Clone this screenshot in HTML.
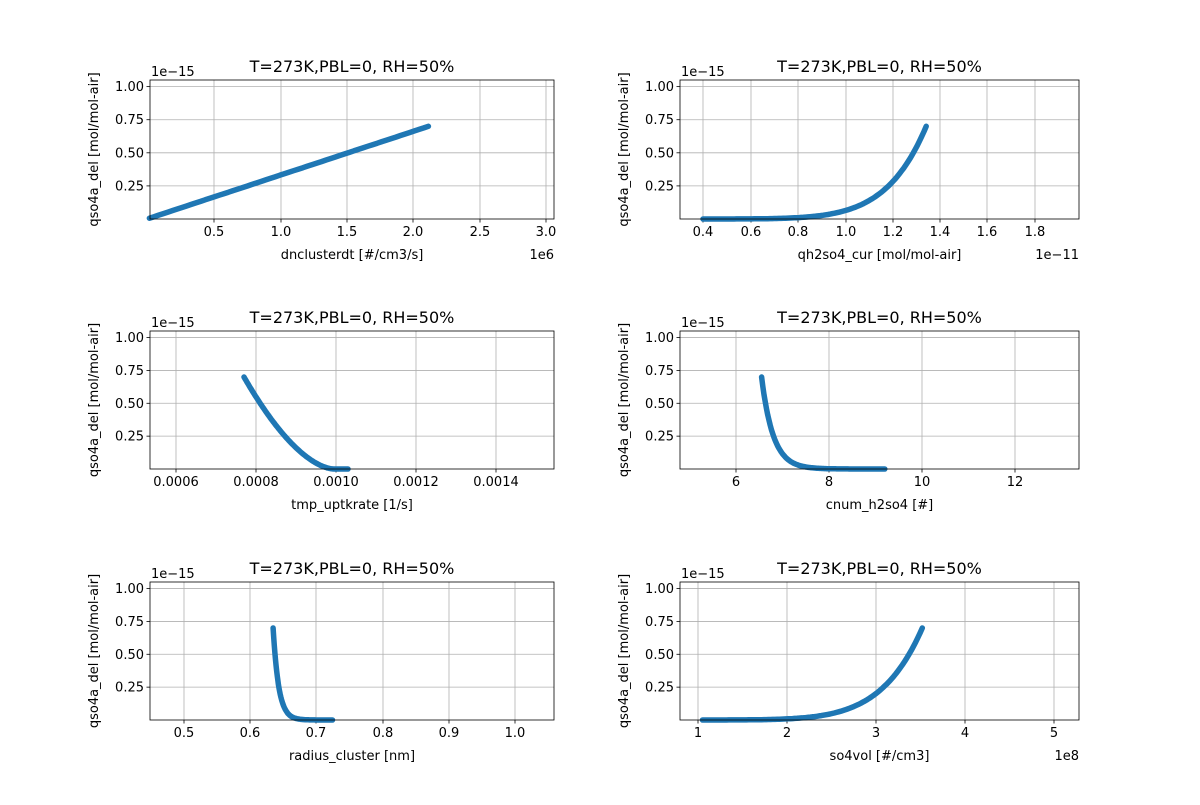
<!DOCTYPE html>
<html><head><meta charset="utf-8"><style>
body{margin:0;background:#fff}
svg text{font-family:"DejaVu Sans","Liberation Sans",sans-serif;fill:#000}
</style></head><body>
<svg id="s" width="1200" height="800" xmlns="http://www.w3.org/2000/svg"></svg>
<script>
const S=document.getElementById('s');const NS='http://www.w3.org/2000/svg';
function el(t,a,txt){const e=document.createElementNS(NS,t);for(const k in a)e.setAttribute(k,a[k]);if(txt!==undefined)e.textContent=txt;S.appendChild(e);return e;}
const axes=[
 {x0:150,x1:554,y0:80,y1:219,xt:[[0.5,214,'0.5'],[1.0,281,'1.0'],[1.5,347,'1.5'],[2.0,413,'2.0'],[2.5,480,'2.5'],[3.0,546,'3.0']],xl:'dnclusterdt [#/cm3/s]',off:'1e6',
  f:()=>{let p=[];for(let i=0;i<=60;i++){let x=0.018+i*(2.1-0.018)/60;p.push([x,x/3.0]);}return p;}},
 {x0:680,x1:1079,y0:80,y1:219,xt:[[0.4,703,'0.4'],[0.6,751,'0.6'],[0.8,798,'0.8'],[1.0,846,'1.0'],[1.2,893,'1.2'],[1.4,940,'1.4'],[1.6,987,'1.6'],[1.8,1035,'1.8']],xl:'qh2so4_cur [mol/mol-air]',off:'1e\u221211',
  f:()=>{let p=[];for(let i=0;i<=100;i++){let x=0.4+i*(1.33-0.4)/100;p.push([x,0.7*Math.pow(x/1.33,8.2)]);}return p;}},
 {x0:150,x1:554,y0:331,y1:469,xt:[[0.0006,176,'0.0006'],[0.0008,256,'0.0008'],[0.0010,336,'0.0010'],[0.0012,416,'0.0012'],[0.0014,496,'0.0014']],xl:'tmp_uptkrate [1/s]',
  f:()=>{let p=[];for(let i=0;i<=100;i++){let x=0.00077+i*(0.00103-0.00077)/100;let s=Math.max(0,(0.000995-x)/(0.000995-0.00077));p.push([x,0.7*Math.pow(s,1.7)]);}return p;}},
 {x0:680,x1:1079,y0:331,y1:469,xt:[[6,736,'6'],[8,829,'8'],[10,922,'10'],[12,1015,'12']],xl:'cnum_h2so4 [#]',
  f:()=>{let p=[];for(let i=0;i<=100;i++){let x=6.55+i*(9.2-6.55)/100;p.push([x,0.7*Math.exp(-(x-6.55)/0.25)]);}return p;}},
 {x0:150,x1:554,y0:582,y1:720,xt:[[0.5,184,'0.5'],[0.6,250,'0.6'],[0.7,316,'0.7'],[0.8,383,'0.8'],[0.9,449,'0.9'],[1.0,515,'1.0']],xl:'radius_cluster [nm]',
  f:()=>{let p=[];for(let i=0;i<=100;i++){let x=0.635+i*(0.725-0.635)/100;p.push([x,0.7*Math.exp(-(x-0.635)/0.0085)]);}return p;}},
 {x0:680,x1:1079,y0:582,y1:720,xt:[[1,698,'1'],[2,787,'2'],[3,876,'3'],[4,965,'4'],[5,1054,'5']],xl:'so4vol [#/cm3]',off:'1e8',
  f:()=>{let p=[];for(let i=0;i<=100;i++){let x=1.05+i*(3.52-1.05)/100;p.push([x,0.7*Math.pow(x/3.52,7.8)]);}return p;}}
];
axes.forEach(a=>{
 const h=a.y1-a.y0,sy=h/1.05;
 const [d0,p0]=[a.xt[0][0],a.xt[0][1]],[d1,p1]=[a.xt[1][0],a.xt[1][1]];
 const X=v=>p0+(v-d0)*(p1-p0)/(d1-d0),Y=v=>a.y1-v*sy;
 a.xt.forEach(t=>{el('line',{x1:t[1],x2:t[1],y1:a.y0,y2:a.y1,stroke:'#b0b0b0','stroke-width':0.8});
  el('line',{x1:t[1],x2:t[1],y1:a.y1,y2:a.y1+3.5,stroke:'#000','stroke-width':0.8});
  el('text',{x:t[1],y:a.y1+17,'font-size':13,'text-anchor':'middle'},t[2]);});
 [[0.25,'0.25'],[0.5,'0.50'],[0.75,'0.75'],[1.0,'1.00']].forEach(t=>{const y=Y(t[0]);
  el('line',{x1:a.x0,x2:a.x1,y1:y,y2:y,stroke:'#b0b0b0','stroke-width':0.8});
  el('line',{x1:a.x0-3.5,x2:a.x0,y1:y,y2:y,stroke:'#000','stroke-width':0.8});
  el('text',{x:a.x0-6,y:y+4.5,'font-size':13,'text-anchor':'end'},t[1]);});
 const pts=a.f().map(q=>X(q[0]).toFixed(1)+','+Y(q[1]).toFixed(1)).join(' ');
 el('polyline',{points:pts,fill:'none',stroke:'#1f77b4','stroke-width':5.5,'stroke-linecap':'round','stroke-linejoin':'round'});
 el('rect',{x:a.x0,y:a.y0,width:a.x1-a.x0,height:h,fill:'none',stroke:'#000','stroke-width':0.8});
 el('text',{x:(a.x0+a.x1)/2,y:a.y0-8,'font-size':16,'text-anchor':'middle'},'T=273K,PBL=0, RH=50%');
 el('text',{x:(a.x0+a.x1)/2,y:a.y1+40,'font-size':13,'text-anchor':'middle'},a.xl);
 el('text',{x:a.x0+1,y:a.y0-4,'font-size':13},'1e\u221215');
 if(a.off)el('text',{x:a.x1,y:a.y1+40,'font-size':13,'text-anchor':'end'},a.off);
 const cy=(a.y0+a.y1)/2,cx=a.x0-52;
 el('text',{x:cx,y:cy,'font-size':13,'text-anchor':'middle',transform:`rotate(-90 ${cx} ${cy})`},'qso4a_del [mol/mol-air]');
});
</script>
</body></html>
